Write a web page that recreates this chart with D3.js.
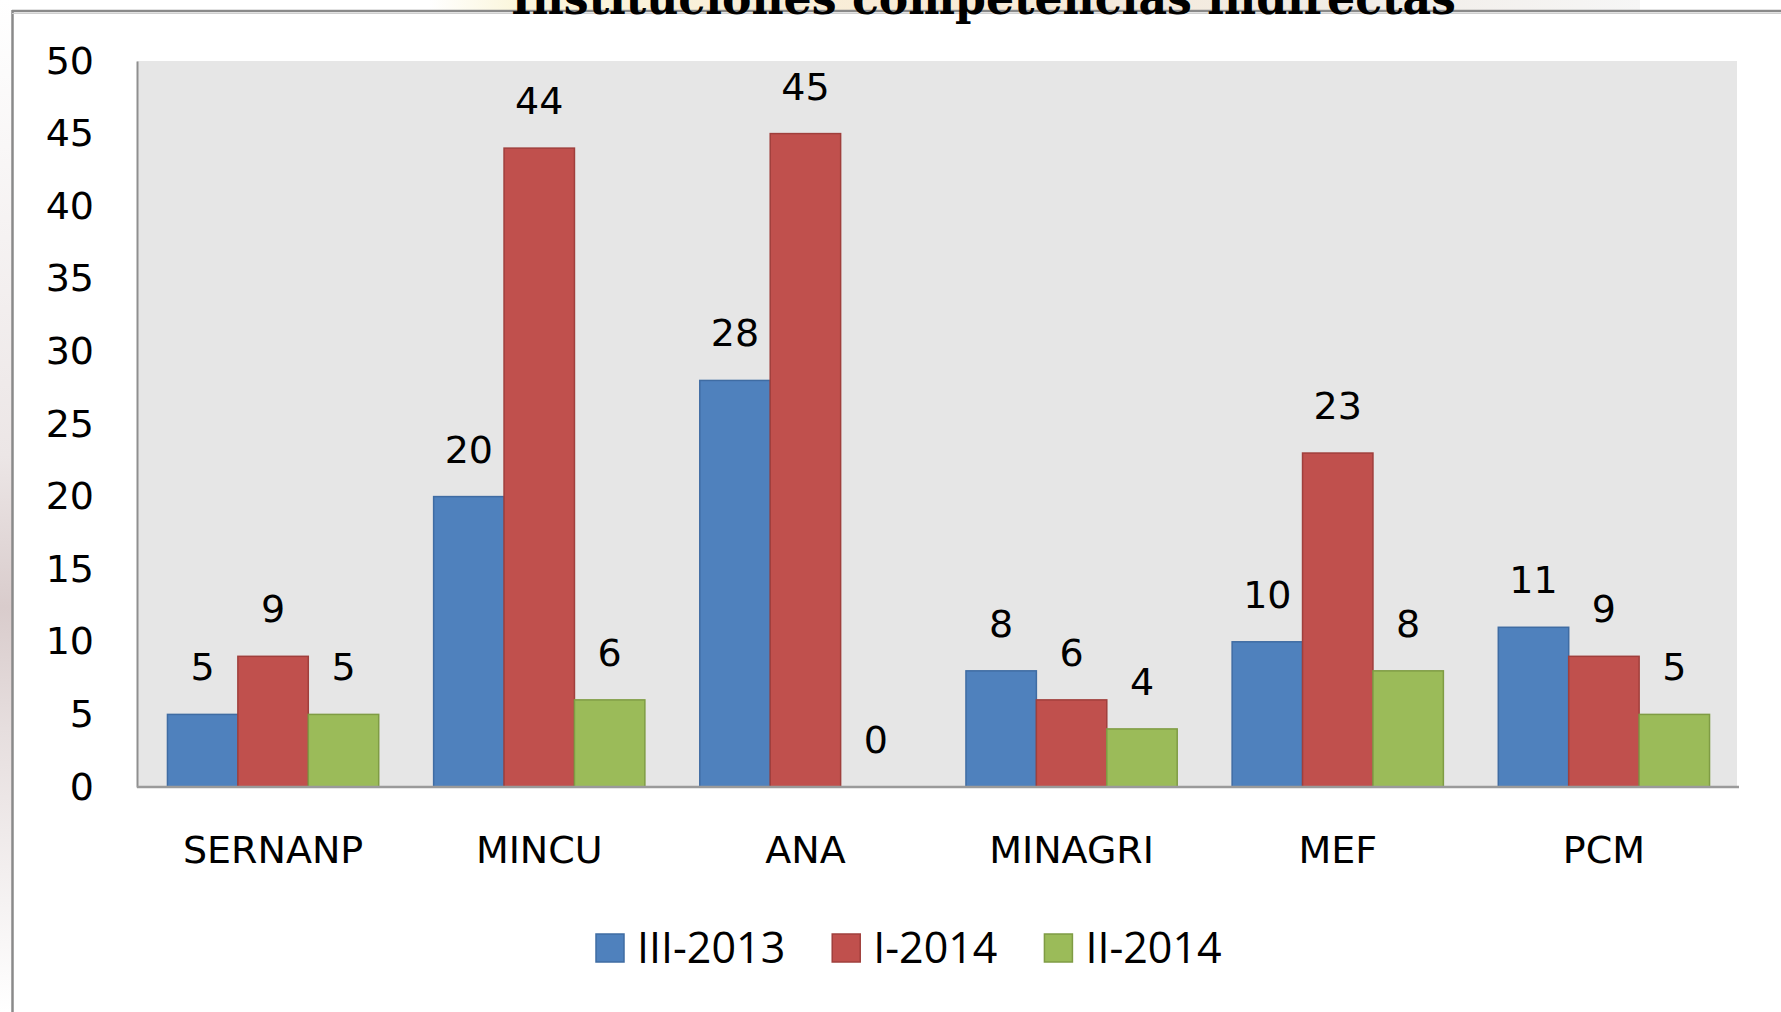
<!DOCTYPE html>
<html>
<head>
<meta charset="utf-8">
<script src="https://cdn.jsdelivr.net/npm/d3@7"></script>
<style>
  html, body { margin: 0; padding: 0; background: #ffffff; }
  svg { display: block; }
</style>
</head>
<body>
<svg id="chart" width="1781" height="1012"></svg>
<script>
// ---- data ----
const categories = ["SERNANP", "MINCU", "ANA", "MINAGRI", "MEF", "PCM"];
const seriesNames = ["III-2013", "I-2014", "II-2014"];
const valsIII2013 = [5, 20, 28, 8, 10, 11];
const valsI2014   = [9, 44, 45, 6, 23, 9];
const valsII2014  = [5, 6, 0, 4, 8, 5];
const yTickValues = [0, 5, 10, 15, 20, 25, 30, 35, 40, 45, 50];
const titleText = "Instituciones competencias indirectas";

const seriesValues = [valsIII2013, valsI2014, valsII2014];
const fills   = ["#4F81BD", "#C0504D", "#9BBB59"];
const strokes = ["#3F6CA3", "#A03F3C", "#7F9C44"];

// ---- layout ----
const svg = d3.select("#chart");
const plot = { left: 137, right: 1737, top: 61, bottom: 787 };
const axisFont = "'DejaVu Sans', sans-serif";

const defs = svg.append("defs");
const tg = defs.append("linearGradient").attr("id", "titleBg").attr("x1", "0").attr("x2", "1").attr("y1", "0").attr("y2", "0");
tg.append("stop").attr("offset", "0").attr("stop-color", "#ffffff");
tg.append("stop").attr("offset", "0.07").attr("stop-color", "#fbf6dc");
tg.append("stop").attr("offset", "0.45").attr("stop-color", "#f8ead6");
tg.append("stop").attr("offset", "0.75").attr("stop-color", "#f1ece6");
tg.append("stop").attr("offset", "1").attr("stop-color", "#f6f6f6");
const lg = defs.append("linearGradient").attr("id", "leftBg").attr("x1", "0").attr("x2", "0").attr("y1", "0").attr("y2", "1");
lg.append("stop").attr("offset", "0").attr("stop-color", "#ffffff");
lg.append("stop").attr("offset", "0.45").attr("stop-color", "#ece6e6");
lg.append("stop").attr("offset", "0.6").attr("stop-color", "#d9cccc");
lg.append("stop").attr("offset", "0.72").attr("stop-color", "#e6dede");
lg.append("stop").attr("offset", "1").attr("stop-color", "#ffffff");

// outside slide backdrop
svg.append("rect").attr("x", 0).attr("y", 0).attr("width", 12).attr("height", 1012).attr("fill", "url(#leftBg)");
svg.append("rect").attr("x", 430).attr("y", 0).attr("width", 1210).attr("height", 10).attr("fill", "url(#titleBg)");

// chart frame (top and left border)
svg.append("line").attr("x1", 12).attr("x2", 1781).attr("y1", 11).attr("y2", 11)
  .attr("stroke", "#8a8a8a").attr("stroke-width", 2.5);
svg.append("line").attr("x1", 12.5).attr("x2", 12.5).attr("y1", 10).attr("y2", 1012)
  .attr("stroke", "#8a8a8a").attr("stroke-width", 2.5);
svg.append("line").attr("x1", 12).attr("x2", 1781).attr("y1", 13.5).attr("y2", 13.5)
  .attr("stroke", "#cfcfcf").attr("stroke-width", 1);

// title (cut off at top, as in the original)
svg.append("text")
  .attr("x", 511).attr("y", 14)
  .attr("textLength", 945).attr("lengthAdjust", "spacingAndGlyphs")
  .attr("font-family", "'DejaVu Serif', 'Liberation Serif', serif")
  .attr("font-weight", "bold").attr("font-size", 46).attr("fill", "#000")
  .text(titleText);

// plot area background
svg.append("rect")
  .attr("x", plot.left).attr("y", plot.top)
  .attr("width", plot.right - plot.left).attr("height", plot.bottom - plot.top)
  .attr("fill", "#E6E6E6");

// scales
const x0 = d3.scaleBand().domain(categories).range([plot.left + 3, plot.right]).padding(0);
const x1 = d3.scaleBand().domain(seriesNames).range([0, x0.bandwidth()]).paddingInner(0).paddingOuter(0.39);
const y = d3.scaleLinear().domain([0, 50]).range([plot.bottom, plot.top]);

// bars
const groups = svg.append("g").selectAll("g")
  .data(categories)
  .join("g")
  .attr("transform", d => `translate(${x0(d)},0)`);

groups.selectAll("rect")
  .data((c, ci) => seriesNames.map((s, si) => ({ s, si, v: seriesValues[si][ci] })))
  .join("rect")
  .attr("x", d => x1(d.s))
  .attr("width", x1.bandwidth())
  .attr("y", d => y(d.v))
  .attr("height", d => y(0) - y(d.v))
  .attr("fill", d => fills[d.si])
  .attr("stroke", d => d.v > 0 ? strokes[d.si] : "none")
  .attr("stroke-width", 1.5);

// data labels
groups.selectAll("text.lbl")
  .data((c, ci) => seriesNames.map((s, si) => ({ s, si, v: seriesValues[si][ci] })))
  .join("text")
  .attr("class", "lbl")
  .attr("x", d => x1(d.s) + x1.bandwidth() / 2)
  .attr("y", d => y(d.v) - 34)
  .attr("text-anchor", "middle")
  .attr("font-family", axisFont)
  .attr("font-size", 38)
  .attr("fill", "#000")
  .text(d => d.v);

// y axis
const yAxis = svg.append("g")
  .attr("transform", `translate(${plot.left},0)`)
  .call(d3.axisLeft(y).tickValues(yTickValues).tickSize(0).tickSizeOuter(0).tickPadding(43));
yAxis.select(".domain").attr("stroke", "#8f8f8f").attr("stroke-width", 2);
yAxis.selectAll("text").attr("font-family", axisFont).attr("font-size", 38).attr("fill", "#000");

// x axis
const xAxis = svg.append("g")
  .attr("transform", `translate(0,${plot.bottom})`)
  .call(d3.axisBottom(x0).tickSize(0).tickSizeOuter(0).tickPadding(49));
xAxis.select(".domain").attr("stroke", "#9a9a9a").attr("stroke-width", 2.5)
  .attr("d", `M${plot.left},0H${plot.right + 2}`);
xAxis.selectAll("text").attr("font-family", axisFont).attr("font-size", 38).attr("fill", "#000");

// legend
const legend = svg.append("g");
let lx = 596;
seriesNames.forEach((name, i) => {
  legend.append("rect")
    .attr("x", lx).attr("y", 934).attr("width", 28).attr("height", 28)
    .attr("fill", fills[i]).attr("stroke", strokes[i]).attr("stroke-width", 1.5);
  const t = legend.append("text")
    .attr("x", lx + 41).attr("y", 963)
    .attr("font-family", "'Open Sans', sans-serif").attr("font-size", 43).attr("fill", "#000")
    .text(name);
  lx = lx + 41 + t.node().getComputedTextLength() + 47;
});
</script>
</body>
</html>
